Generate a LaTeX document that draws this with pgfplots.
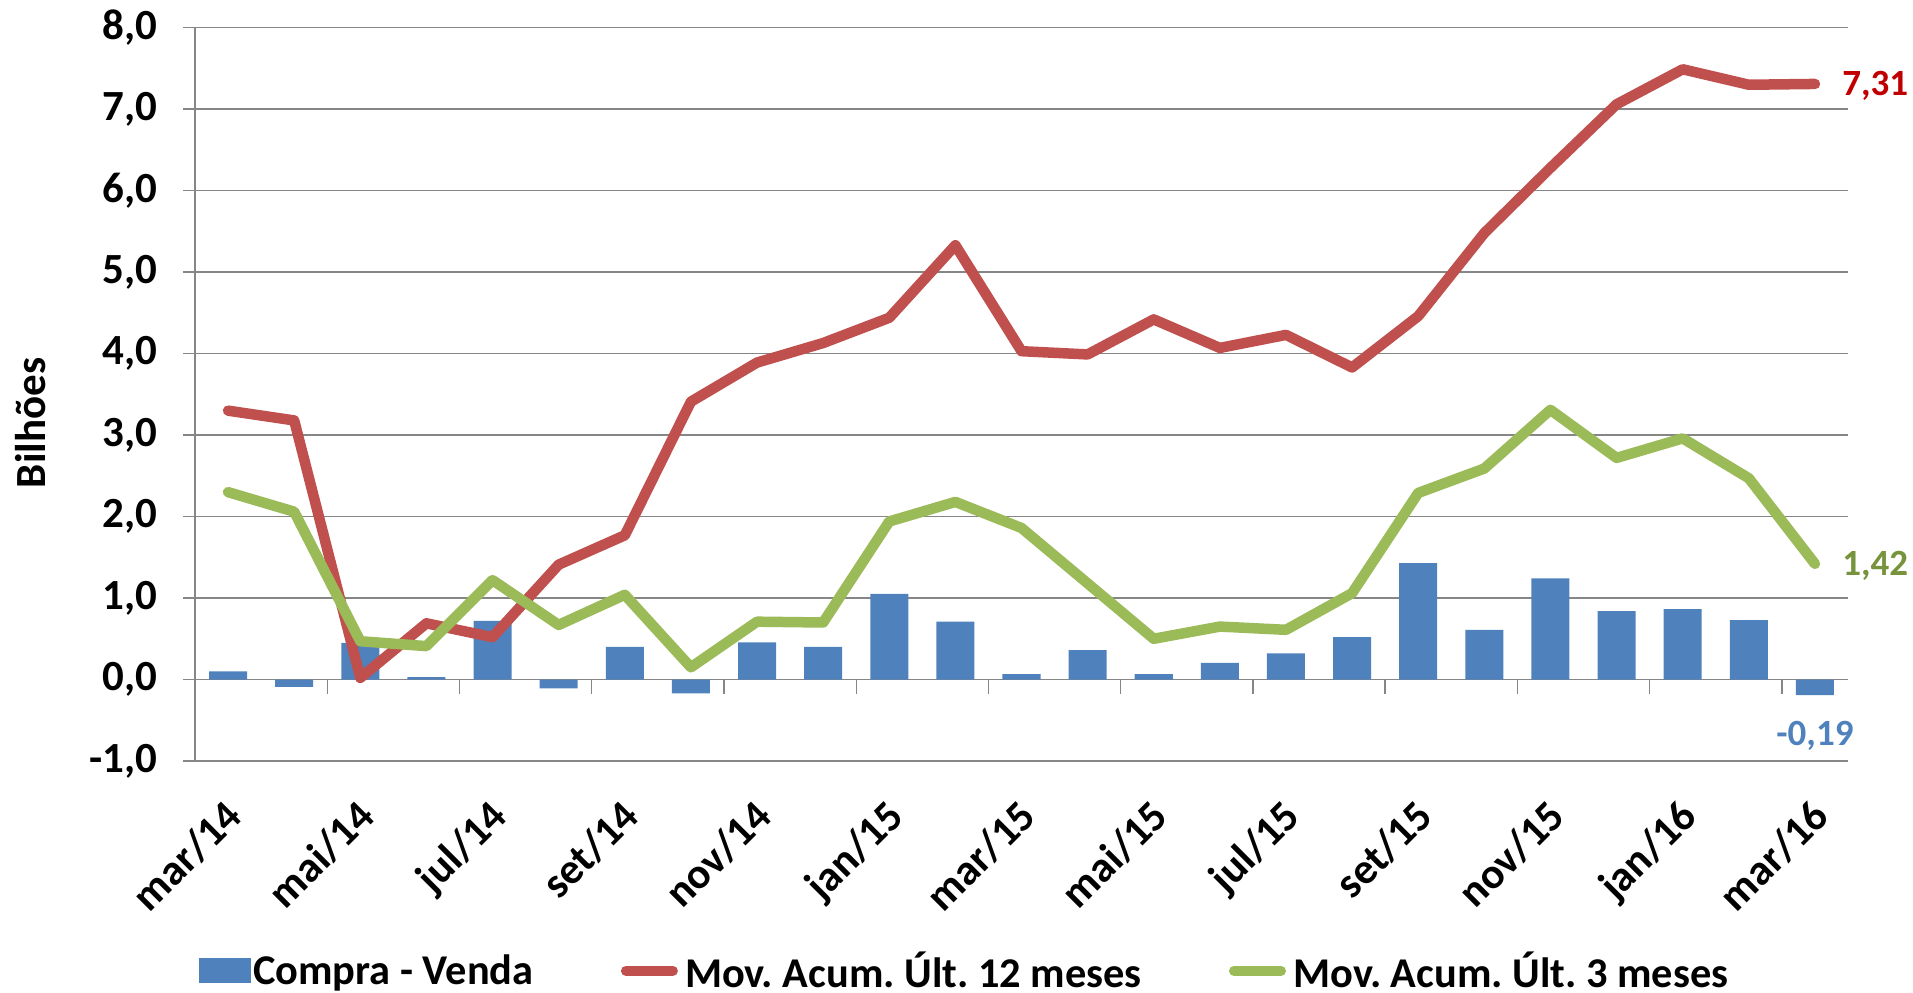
\documentclass[border=0pt]{standalone}
\usepackage{fontspec}
\setmainfont{Carlito}
\usepackage{pgfplots}
\usepackage{pgfplotstable}
\pgfplotsset{compat=1.18}
\definecolor{barblue}{HTML}{4F81BD}
\definecolor{linered}{HTML}{C0504D}
\definecolor{linegreen}{HTML}{9BBB59}
\definecolor{gridgray}{HTML}{868686}
\definecolor{lblred}{HTML}{C00000}
\definecolor{lblgreen}{HTML}{77933C}
\newcommand{\bigf}{\fontsize{21.5}{25}\selectfont\bfseries\frenchspacing}
\newcommand{\legf}{\fontsize{21.2}{25}\selectfont\bfseries\frenchspacing}
\newcommand{\smallf}{\fontsize{18.5}{22}\selectfont\bfseries}

\pgfplotstableread{
x cv m12 m3
0 0.10 3.30 2.30
1 -0.09 3.18 2.06
2 0.45 0.02 0.47
3 0.03 0.69 0.41
4 0.72 0.52 1.22
5 -0.11 1.41 0.67
6 0.40 1.77 1.04
7 -0.17 3.41 0.15
8 0.455 3.89 0.71
9 0.40 4.13 0.70
10 1.05 4.44 1.94
11 0.71 5.33 2.18
12 0.066 4.03 1.86
13 0.36 3.99 1.18
14 0.066 4.42 0.50
15 0.205 4.07 0.65
16 0.32 4.23 0.61
17 0.52 3.83 1.06
18 1.43 4.46 2.29
19 0.61 5.48 2.59
20 1.24 6.28 3.31
21 0.84 7.06 2.72
22 0.865 7.49 2.96
23 0.73 7.30 2.47
24 -0.19 7.31 1.42
}\data

\begin{document}
\frenchspacing
\begin{tikzpicture}
\begin{axis}[
  at={(0pt,0pt)}, anchor=south west,
  scale only axis, width=826.5pt, height=366.65pt,
  xmin=-0.5, xmax=24.5, ymin=-1, ymax=8,
  clip=false,
  axis line style={draw=none},
  ytick={-1,0,...,8},
  yticklabels={{-1,0},{0,0},{1,0},{2,0},{3,0},{4,0},{5,0},{6,0},{7,0},{8,0}},
  ymajorgrids, grid style={gridgray, line width=0.7pt},
  ytick pos=left, tick align=outside, major tick length=6pt,
  ytick style={gridgray, line width=0.7pt},
  y tick label style={font=\bigf, anchor=east, inner sep=0pt, xshift=-12.5pt},
  xtick={0,2,...,24},
  xticklabels={mar/14,mai/14,jul/14,set/14,nov/14,jan/15,mar/15,mai/15,jul/15,set/15,nov/15,jan/16,mar/16},
  xtick style={draw=none},
  xtick pos=bottom,
  x tick label style={font=\bigf, inner sep=0pt, yshift=-12pt, xshift=-2.5pt, rotate=45, anchor=north east},
  ylabel={Bilhões},
  ylabel style={font=\bigf, at={(axis description cs:-0.0992,0.461)}, anchor=center},
  legend columns=3, legend cell align=left,
  legend style={at={(axis description cs:0.0026,-0.286)}, anchor=west, draw=none, fill=none,
    inner sep=0pt, outer sep=0pt, font=\legf, nodes={inner xsep=1pt, inner ysep=1pt},
    /tikz/every even column/.append style={column sep=40pt}},
]
\addplot[ybar, bar width=0.575, fill=barblue, draw=none,
  legend image code/.code={\fill[barblue] (0pt,-6.25pt) rectangle (26pt,6.25pt);}]
  table[x=x,y=cv]{\data};
\addlegendentry{Compra - Venda}
\addplot[linered, line width=5.25pt, line join=round, line cap=round, mark=none,
  legend image code/.code={\path (0pt,0pt) (28.5pt,0pt); \draw[linered, line width=5pt, line cap=round] (2.5pt,0pt) -- (26pt,0pt);}]
  table[x=x,y=m12]{\data};
\addlegendentry{Mov. Acum. Últ. 12 meses}
\addplot[linegreen, line width=5.25pt, line join=round, line cap=round, mark=none,
  legend image code/.code={\path (0pt,0pt) (28.5pt,0pt); \draw[linegreen, line width=5pt, line cap=round] (2.5pt,0pt) -- (26pt,0pt);}]
  table[x=x,y=m3]{\data};
\addlegendentry{Mov. Acum. Últ. 3 meses}
\draw[gridgray, line width=0.7pt] (axis cs:-0.5,-1) -- (axis cs:-0.5,8);
\pgfplotsinvokeforeach{1.5,3.5,...,23.5}{\draw[gridgray, line width=0.7pt] (axis cs:#1,0) -- ++(0pt,-7pt);}
\node[anchor=base west, inner sep=0pt, text=lblred, font=\smallf, xshift=13.5pt, yshift=-5.8pt] at (axis cs:24,7.31) {7,31};
\node[anchor=base west, inner sep=0pt, text=lblgreen, font=\smallf, xshift=13.5pt, yshift=-5.8pt] at (axis cs:24,1.42) {1,42};
\node[anchor=north, inner sep=0pt, text=barblue, font=\smallf, yshift=-13pt] at (axis cs:24,-0.19) {-0,19};
\end{axis}
\pgfresetboundingbox
\useasboundingbox (-97.5pt,-115.5pt) rectangle (859pt,380.5pt);
\end{tikzpicture}
\end{document}
